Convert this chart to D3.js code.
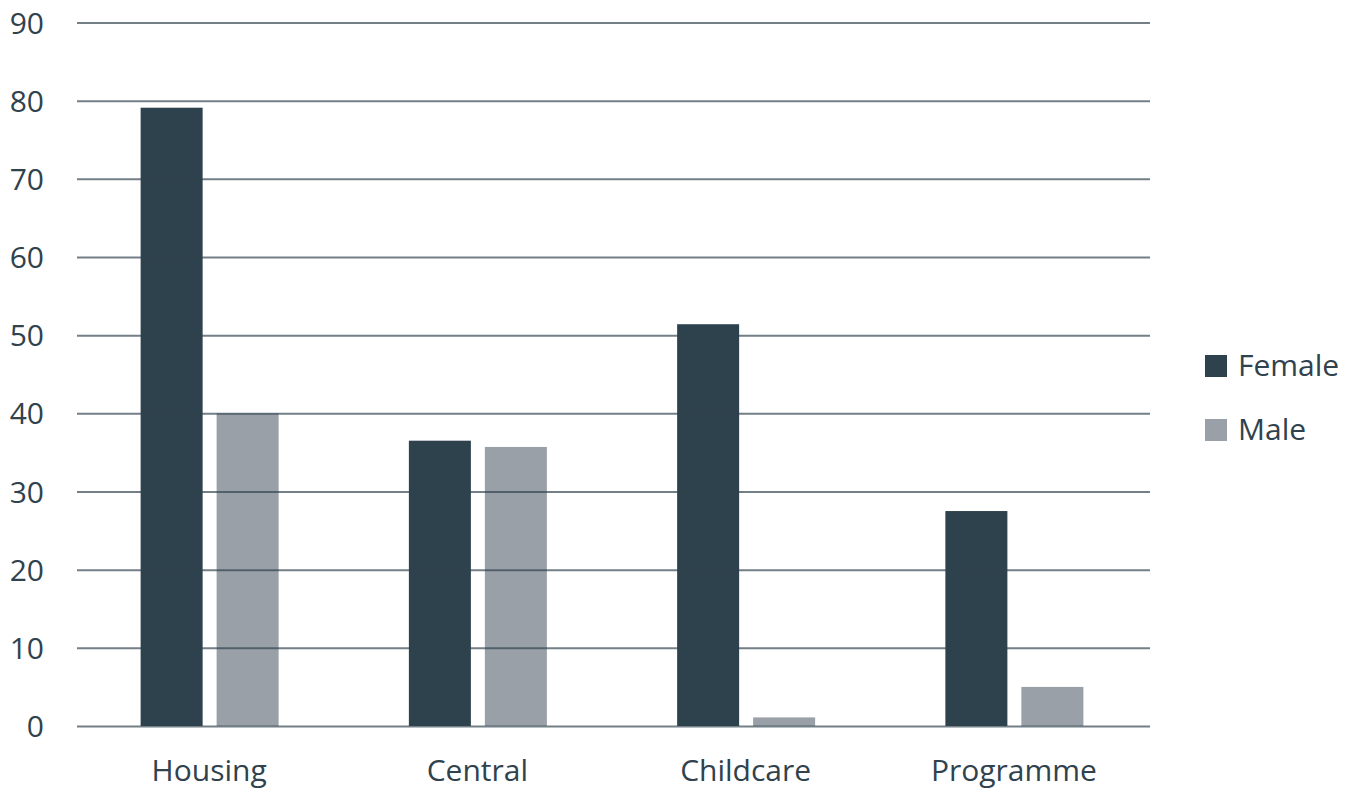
<!DOCTYPE html>
<html>
<head>
<meta charset="utf-8">
<script src="https://cdn.jsdelivr.net/npm/d3@7"></script>
<style>
  body { margin: 0; background: #fff; }
  text { font-family: "Open Sans", "Noto Sans", sans-serif; fill: #2f424d; }
</style>
</head>
<body>
<div id="chart"></div>
<script>
// Data
var categories = ['Housing', 'Central', 'Childcare', 'Programme'];
var seriesNames = ['Female', 'Male'];
var female = [79.1, 36.5, 51.4, 27.5];
var male = [40, 35.7, 1.1, 5];
var yTicks = [0, 10, 20, 30, 40, 50, 60, 70, 80, 90];
var color = ['#2e424d', '#99a0a7'];

function makeChart(divId) {
    var width = 1355, height = 789;
    var margin = {top: 22.5, right: 205, bottom: 63, left: 77};
    var plotW = width - margin.left - margin.right;
    var plotH = height - margin.top - margin.bottom;

    var values = [female, male];
    var data = categories.map(function(c, i) {
        return {cat: c, vals: seriesNames.map(function(s, j) { return {key: s, value: values[j][i], idx: j}; })};
    });

    // Scales
    var x0 = d3.scaleBand().domain(categories).range([0, plotW]).padding(0);
    var groupW = 138;
    var x1 = d3.scaleBand().domain(seriesNames).range([0, groupW]).paddingInner(0.184);
    var y = d3.scaleLinear().domain([0, 90]).range([plotH, 0]);

    var svg = d3.select(divId).append('svg')
        .attr('width', width)
        .attr('height', height)
      .append('g')
        .attr('transform', 'translate(' + margin.left + ',' + margin.top + ')');

    // Bars
    var groups = svg.selectAll('.group')
        .data(data)
      .enter().append('g')
        .attr('class', 'group')
        .attr('transform', function(d) {
            return 'translate(' + (x0(d.cat) + (x0.bandwidth() - groupW) / 2 - 1.5) + ',0)';
        });

    groups.selectAll('rect')
        .data(function(d) { return d.vals; })
      .enter().append('rect')
        .attr('x', function(d) { return x1(d.key); })
        .attr('y', function(d) { return y(d.value); })
        .attr('width', x1.bandwidth())
        .attr('height', function(d) { return plotH - y(d.value); })
        .style('fill', function(d) { return color[d.idx]; });

    // Grid lines (drawn over the bars)
    var yAxis = d3.axisLeft(y)
        .tickValues(yTicks)
        .tickSize(-plotW)
        .tickFormat(d3.format('d'));

    var gy = svg.append('g')
        .attr('class', 'y axis')
        .call(yAxis);
    gy.select('.domain').remove();
    gy.selectAll('line')
        .style('stroke', '#2f424d')
        .style('stroke-opacity', 0.68)
        .style('stroke-width', 2);
    gy.selectAll('text')
        .attr('x', -33)
        .attr('dy', '0.35em')
        .style('font-size', '30px')
        .style('text-anchor', 'end');

    // X axis labels
    var xAxis = d3.axisBottom(x0).tickSize(0);
    var gx = svg.append('g')
        .attr('class', 'x axis')
        .attr('transform', 'translate(0,' + plotH + ')')
        .call(xAxis);
    gx.select('.domain').remove();
    gx.selectAll('text')
        .attr('x', -2)
        .attr('y', 55)
        .attr('dy', 0)
        .style('font-size', '30px');

    // Legend
    var legend = svg.selectAll('.legend')
        .data(seriesNames)
      .enter().append('g')
        .attr('class', 'legend')
        .attr('transform', function(d, i) {
            return 'translate(' + (1205 - margin.left) + ',' + (355 - margin.top + i * 64) + ')';
        });
    legend.append('rect')
        .attr('width', 22)
        .attr('height', 22)
        .style('fill', function(d, i) { return color[i]; });
    legend.append('text')
        .attr('x', 33)
        .attr('y', 21)
        .style('font-size', '30px')
        .text(function(d) { return d; });
}

makeChart('#chart');
</script>
</body>
</html>
